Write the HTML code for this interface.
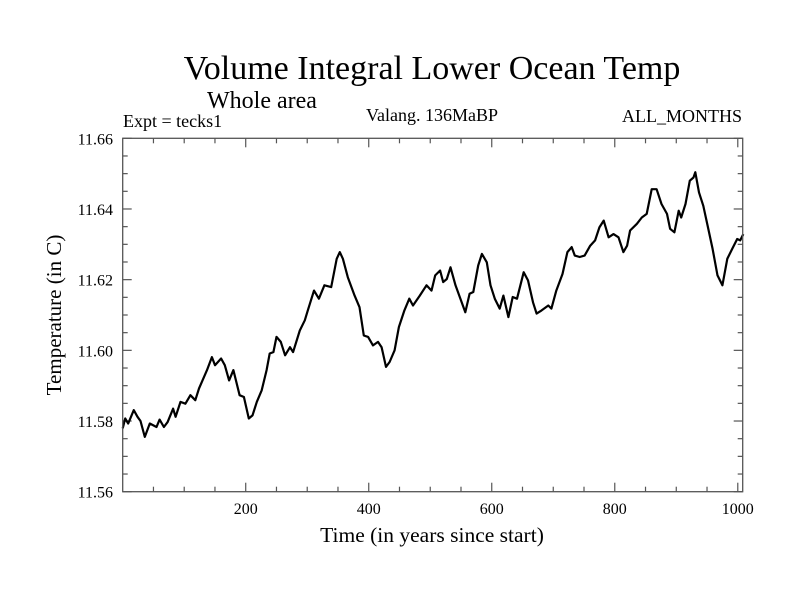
<!DOCTYPE html>
<html><head><meta charset="utf-8"><style>
body{margin:0;background:#fff}
svg{display:block;font-family:"Liberation Serif",serif}
</style></head><body>
<svg id="chart" width="800" height="600" viewBox="0 0 800 600">
<text x="432" y="79" font-size="34" text-anchor="middle">Volume Integral Lower Ocean Temp</text>
<text x="262" y="108" font-size="24" text-anchor="middle">Whole area</text>
<text x="123" y="127" font-size="18">Expt = tecks1</text>
<text x="432" y="121" font-size="18" text-anchor="middle">Valang. 136MaBP</text>
<text x="742" y="122" font-size="18" text-anchor="end">ALL_MONTHS</text>
<text transform="translate(61,315) rotate(-90)" font-size="21" text-anchor="middle">Temperature (in C)</text>
<text x="432" y="542" font-size="21.5" text-anchor="middle">Time (in years since start)</text>
<g id="axes"></g>
<path id="series" fill="none" stroke="#000" stroke-width="2.2" stroke-linejoin="round"/>
<rect x="122.7" y="138.3" width="620" height="353.4" fill="none" stroke="#555" stroke-width="1.3"/>
</svg>
<script>
const years=[0,4,9,18,24,29,36,44,55,60,67,73,82,86,94,102,110,118,124,137,145,150,160,166,173,180,190,197,205,211,218,226,234,239,245,250,257,264,272,277,288,296,301,311,319,328,339,348,353,358,366,377,385,392,399,407,415,421,428,434,442,449,458,466,472,483,494,502,508,516,521,527,533,541,549,557,564,570,578,584,592,598,605,613,619,627,634,641,652,659,667,673,681,692,697,705,715,723,730,735,743,751,760,768,775,782,790,798,806,814,820,825,836,844,852,860,868,876,885,890,897,904,908,915,922,928,931,937,944,951,959,967,975,983,991,999,1004,1009];
const temps=[11.5779,11.5807,11.5793,11.5831,11.5812,11.5800,11.5755,11.5793,11.5783,11.5804,11.5783,11.5797,11.5835,11.5812,11.5854,11.5849,11.5873,11.5859,11.5892,11.5944,11.5981,11.5958,11.5977,11.5958,11.5915,11.5944,11.5873,11.5868,11.5807,11.5816,11.5854,11.5887,11.5944,11.5991,11.5995,11.6038,11.6024,11.5986,11.6009,11.5995,11.6056,11.6085,11.6113,11.6169,11.6146,11.6184,11.6179,11.6259,11.6278,11.6259,11.6207,11.6155,11.6122,11.6042,11.6038,11.6014,11.6024,11.6009,11.5953,11.5967,11.6000,11.6066,11.6113,11.6146,11.6127,11.6155,11.6184,11.6169,11.6212,11.6226,11.6193,11.6202,11.6235,11.6184,11.6146,11.6108,11.6160,11.6165,11.6240,11.6273,11.6249,11.6184,11.6146,11.6118,11.6155,11.6094,11.6151,11.6146,11.6221,11.6198,11.6136,11.6104,11.6113,11.6127,11.6118,11.6169,11.6216,11.6278,11.6292,11.6268,11.6264,11.6268,11.6296,11.6311,11.6348,11.6367,11.6320,11.6329,11.6320,11.6278,11.6296,11.6339,11.6358,11.6376,11.6386,11.6456,11.6456,11.6414,11.6386,11.6344,11.6334,11.6395,11.6376,11.6414,11.6480,11.6489,11.6504,11.6447,11.6409,11.6353,11.6287,11.6212,11.6184,11.6259,11.6287,11.6315,11.6311,11.6329];
const xTickLabels=[200,400,600,800,1000];
const yTickLabels=["11.56","11.58","11.60","11.62","11.64","11.66"];
const X0=122.7,X1=742.7,Y0=491.7,Y1=138.3,XMIN=0,XMAX=1008,YMIN=11.56,YMAX=11.66;
function xs(v){return X0+(v-XMIN)/(XMAX-XMIN)*(X1-X0);}
function ys(v){return Y0-(v-YMIN)/(YMAX-YMIN)*(Y0-Y1);}
const NS="http://www.w3.org/2000/svg";
const axes=document.getElementById('axes');
function line(x1,y1,x2,y2,name){const l=document.createElementNS(NS,'line');l.setAttribute('x1',x1);l.setAttribute('y1',y1);l.setAttribute('x2',x2);l.setAttribute('y2',y2);l.setAttribute('stroke','#555');l.setAttribute('stroke-width','1.2');


axes.appendChild(l);}
function text(x,y,s,anchor,name){const t=document.createElementNS(NS,'text');t.setAttribute('x',x);t.setAttribute('y',y);t.setAttribute('font-size','16');t.setAttribute('text-anchor',anchor);t.textContent=s;


axes.appendChild(t);}
for(let v=50;v<=XMAX;v+=50){const x=xs(v);const L=(v%200===0)?9:5;line(x,Y0,x,Y0-L,'x-tick');line(x,Y1,x,Y1+L,'x-tick-top');}
for(let i=0;i<=20;i++){const v=YMIN+i*0.005;const y=ys(v);const L=(i%4===0)?9:5;line(X0,y,X0+L,y,'y-tick');line(X1,y,X1-L,y,'y-tick-right');}
xTickLabels.forEach(v=>text(xs(v),514,String(v),'middle','x-tick-label'));
yTickLabels.forEach(s=>text(113,ys(parseFloat(s))+6,s,'end','y-tick-label'));
let d='';years.forEach((yr,i)=>{d+=(i?'L':'M')+xs(yr).toFixed(1)+','+ys(temps[i]).toFixed(1);});
document.getElementById('series').setAttribute('d',d);
</script>
</body></html>
